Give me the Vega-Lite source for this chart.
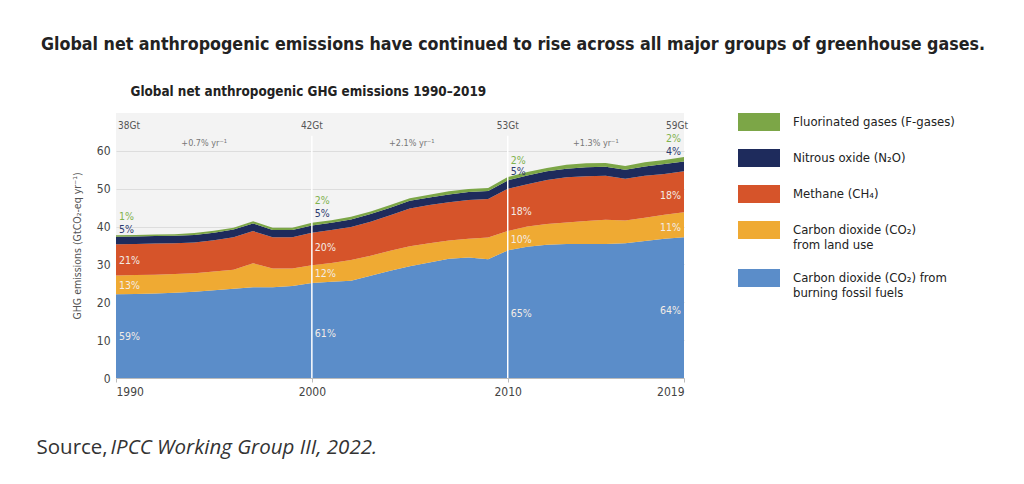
{
  "$schema": "https://vega.github.io/schema/vega-lite/v6.json",
  "autosize": {"type": "none"},
  "width": 568,
  "height": 265,
  "padding": {"left": 116, "top": 113, "right": 340, "bottom": 106},
  "background": "white",
  "title": {
    "text": "Global net anthropogenic emissions have continued to rise across all major groups of greenhouse gases.",
    "anchor": "middle",
    "frame": "group",
    "dx": 113,
    "offset": 30,
    "font": "DejaVu Sans Condensed",
    "fontSize": 17.7,
    "fontWeight": "bold",
    "color": "#222222"
  },
  "datasets": {
    "emissions": [
      {"year": 1990, "fossil": 22.1, "land": 5.0, "methane": 8.2, "n2o": 2.0, "fgas": 0.4},
      {"year": 1991, "fossil": 22.2, "land": 5.0, "methane": 8.2, "n2o": 2.0, "fgas": 0.4},
      {"year": 1992, "fossil": 22.3, "land": 5.0, "methane": 8.2, "n2o": 2.0, "fgas": 0.4},
      {"year": 1993, "fossil": 22.5, "land": 5.0, "methane": 8.1, "n2o": 2.0, "fgas": 0.4},
      {"year": 1994, "fossil": 22.8, "land": 4.9, "methane": 8.1, "n2o": 2.0, "fgas": 0.5},
      {"year": 1995, "fossil": 23.2, "land": 4.9, "methane": 8.3, "n2o": 2.0, "fgas": 0.5},
      {"year": 1996, "fossil": 23.6, "land": 5.0, "methane": 8.6, "n2o": 2.0, "fgas": 0.5},
      {"year": 1997, "fossil": 24.0, "land": 6.3, "methane": 8.5, "n2o": 2.0, "fgas": 0.6},
      {"year": 1998, "fossil": 24.0, "land": 4.9, "methane": 8.3, "n2o": 1.9, "fgas": 0.6},
      {"year": 1999, "fossil": 24.3, "land": 4.6, "methane": 8.3, "n2o": 1.9, "fgas": 0.6},
      {"year": 2000, "fossil": 25.1, "land": 4.7, "methane": 8.6, "n2o": 1.9, "fgas": 0.7},
      {"year": 2001, "fossil": 25.4, "land": 5.0, "methane": 8.7, "n2o": 1.9, "fgas": 0.7},
      {"year": 2002, "fossil": 25.7, "land": 5.5, "methane": 8.7, "n2o": 2.0, "fgas": 0.7},
      {"year": 2003, "fossil": 27.0, "land": 5.3, "methane": 9.0, "n2o": 2.0, "fgas": 0.7},
      {"year": 2004, "fossil": 28.3, "land": 5.3, "methane": 9.4, "n2o": 2.0, "fgas": 0.7},
      {"year": 2005, "fossil": 29.5, "land": 5.3, "methane": 10.0, "n2o": 2.0, "fgas": 0.7},
      {"year": 2006, "fossil": 30.5, "land": 5.1, "methane": 10.1, "n2o": 2.0, "fgas": 0.7},
      {"year": 2007, "fossil": 31.5, "land": 4.8, "methane": 10.1, "n2o": 2.1, "fgas": 0.8},
      {"year": 2008, "fossil": 31.8, "land": 5.0, "methane": 10.2, "n2o": 2.1, "fgas": 0.8},
      {"year": 2009, "fossil": 31.4, "land": 5.7, "methane": 10.2, "n2o": 2.1, "fgas": 0.8},
      {"year": 2010, "fossil": 33.7, "land": 5.1, "methane": 11.2, "n2o": 2.2, "fgas": 0.9},
      {"year": 2011, "fossil": 34.7, "land": 5.3, "methane": 11.2, "n2o": 2.3, "fgas": 0.9},
      {"year": 2012, "fossil": 35.2, "land": 5.5, "methane": 11.6, "n2o": 2.3, "fgas": 0.9},
      {"year": 2013, "fossil": 35.4, "land": 5.7, "methane": 11.9, "n2o": 2.3, "fgas": 1.0},
      {"year": 2014, "fossil": 35.4, "land": 6.1, "methane": 11.8, "n2o": 2.4, "fgas": 1.0},
      {"year": 2015, "fossil": 35.4, "land": 6.4, "methane": 11.6, "n2o": 2.4, "fgas": 1.0},
      {"year": 2016, "fossil": 35.6, "land": 6.0, "methane": 11.0, "n2o": 2.4, "fgas": 1.0},
      {"year": 2017, "fossil": 36.2, "land": 6.1, "methane": 11.1, "n2o": 2.5, "fgas": 1.1},
      {"year": 2018, "fossil": 36.8, "land": 6.3, "methane": 10.8, "n2o": 2.6, "fgas": 1.1},
      {"year": 2019, "fossil": 37.2, "land": 6.6, "methane": 10.8, "n2o": 2.6, "fgas": 1.2}
    ],
    "gases": [
      {"gas": "fossil", "rank": 1},
      {"gas": "land", "rank": 2},
      {"gas": "methane", "rank": 3},
      {"gas": "n2o", "rank": 4},
      {"gas": "fgas", "rank": 5}
    ],
    "dividers": [{"year": 2000}, {"year": 2010}],
    "pctLeft": [
      {"year": 1990, "v": 42.6, "label": "1%", "gas": "fgas"},
      {"year": 1990, "v": 39.1, "label": "5%", "gas": "n2o"},
      {"year": 1990, "v": 31.0, "label": "21%", "gas": "methane"},
      {"year": 1990, "v": 24.3, "label": "13%", "gas": "land"},
      {"year": 1990, "v": 10.7, "label": "59%", "gas": "fossil"},
      {"year": 2000, "v": 46.7, "label": "2%", "gas": "fgas"},
      {"year": 2000, "v": 43.3, "label": "5%", "gas": "n2o"},
      {"year": 2000, "v": 34.4, "label": "20%", "gas": "methane"},
      {"year": 2000, "v": 27.4, "label": "12%", "gas": "land"},
      {"year": 2000, "v": 11.6, "label": "61%", "gas": "fossil"},
      {"year": 2010, "v": 57.4, "label": "2%", "gas": "fgas"},
      {"year": 2010, "v": 54.3, "label": "5%", "gas": "n2o"},
      {"year": 2010, "v": 43.8, "label": "18%", "gas": "methane"},
      {"year": 2010, "v": 36.5, "label": "10%", "gas": "land"},
      {"year": 2010, "v": 17.0, "label": "65%", "gas": "fossil"}
    ],
    "pctRight": [
      {"year": 2019, "v": 63.1, "label": "2%", "gas": "fgas"},
      {"year": 2019, "v": 59.6, "label": "4%", "gas": "n2o"},
      {"year": 2019, "v": 48.2, "label": "18%", "gas": "methane"},
      {"year": 2019, "v": 39.7, "label": "11%", "gas": "land"},
      {"year": 2019, "v": 17.7, "label": "64%", "gas": "fossil"}
    ],
    "headCenter": [
      {"year": 2000, "v": 66.5, "label": "42Gt", "kind": "total"},
      {"year": 2010, "v": 66.5, "label": "53Gt", "kind": "total"},
      {"year": 1994.5, "v": 62.2, "label": "+0.7% yr⁻¹", "kind": "rate"},
      {"year": 2005.1, "v": 62.2, "label": "+2.1% yr⁻¹", "kind": "rate"},
      {"year": 2014.5, "v": 62.2, "label": "+1.3% yr⁻¹", "kind": "rate"}
    ],
    "headLeft": [{"year": 1990, "v": 66.5, "label": "38Gt"}],
    "headRight": [{"year": 2019, "v": 66.5, "label": "59Gt"}]
  },
  "resolve": {"axis": {"x": "independent", "y": "independent"}},
  "layer": [
    {
      "data": {"name": "emissions"},
      "transform": [
        {"fold": ["fossil", "land", "methane", "n2o", "fgas"], "as": ["gas", "value"]},
        {"lookup": "gas", "from": {"data": {"name": "gases"}, "key": "gas", "fields": ["rank"]}}
      ],
      "mark": {"type": "area", "interpolate": "linear", "opacity": 1},
      "encoding": {
        "x": {
          "field": "year", "type": "quantitative",
          "scale": {"domain": [1990, 2019], "nice": false, "zero": false},
          "axis": {
            "values": [1990, 2000, 2010, 2019], "format": "d", "labelFlush": true,
            "grid": false, "domainColor": "#bbbbbb", "tickColor": "#bbbbbb", "tickSize": 4,
            "labelFont": "DejaVu Sans Condensed", "labelFontSize": 12, "labelColor": "#444444", "labelPadding": 4,
            "title": "Source,", "titleFont": "Open Sans", "titleFontSize": 20.5, "titleFontWeight": "normal",
            "titleColor": "#333333", "titleX": -80, "titleY": 75, "titleAlign": "left", "titleBaseline": "alphabetic", "titleAnchor": "start"
          }
        },
        "y": {
          "field": "value", "type": "quantitative", "stack": "zero",
          "scale": {"domain": [0, 70], "nice": false},
          "axis": {
            "values": [0, 10, 20, 30, 40, 50, 60], "grid": true, "gridColor": "#dddddd", "ticks": false, "domain": false,
            "labelFont": "DejaVu Sans Condensed", "labelFontSize": 12, "labelColor": "#444444", "labelPadding": 6,
            "title": "GHG emissions (GtCO₂-eq yr⁻¹)", "titleFont": "DejaVu Sans Condensed", "titleFontSize": 10.5,
            "titleFontWeight": "normal", "titleColor": "#555555", "titlePadding": 14
          }
        },
        "color": {
          "field": "gas", "type": "nominal",
          "scale": {
            "domain": ["fgas", "n2o", "methane", "land", "fossil"],
            "range": ["#7ca647", "#1e2b5c", "#d6542a", "#efaa33", "#5b8dc9"]
          },
          "legend": {
            "orient": "none", "legendX": 622, "legendY": -12, "title": null,
            "symbolType": "M-1,-0.43H1V0.43H-1Z", "symbolSize": 1764, "symbolStrokeWidth": 0, "symbolOpacity": 1,
            "labelFont": "DejaVu Sans Condensed", "labelFontSize": 13, "labelColor": "#222222", "labelLimit": 300,
            "labelOffset": 13, "rowPadding": 5,
            "labelExpr": "datum.value == 'fgas' ? 'Fluorinated gases (F-gases)' : datum.value == 'n2o' ? 'Nitrous oxide (N₂O)' : datum.value == 'methane' ? 'Methane (CH₄)' : datum.value == 'land' ? ['Carbon dioxide (CO₂)', 'from land use'] : ['Carbon dioxide (CO₂) from', 'burning fossil fuels']"
          }
        },
        "order": {"field": "rank", "type": "quantitative"}
      }
    },
    {
      "data": {"name": "dividers"},
      "mark": {"type": "rule", "color": "#ffffff", "strokeWidth": 1.5},
      "encoding": {
        "x": {"field": "year", "type": "quantitative", "axis": null},
        "y": {"datum": 0, "type": "quantitative", "axis": null},
        "y2": {"datum": 64}
      }
    },
    {
      "data": {"name": "headCenter"},
      "mark": {"type": "text", "align": "center", "baseline": "middle", "font": "DejaVu Sans Condensed"},
      "encoding": {
        "x": {
          "field": "year", "type": "quantitative",
          "axis": {
            "orient": "top", "labels": false, "ticks": false, "domain": false, "grid": false,
            "title": "Global net anthropogenic GHG emissions 1990–2019", "titleFont": "DejaVu Sans Condensed",
            "titleFontSize": 13.4, "titleFontWeight": "bold", "titleColor": "#222222",
            "titleX": 14, "titleY": -18, "titleAlign": "left", "titleBaseline": "alphabetic", "titleAnchor": "start"
          }
        },
        "y": {"field": "v", "type": "quantitative", "axis": null},
        "text": {"field": "label"},
        "size": {"condition": {"test": "datum.kind == 'rate'", "value": 9}, "value": 10},
        "color": {"condition": {"test": "datum.kind == 'rate'", "value": "#777777"}, "value": "#555555"}
      }
    },
    {
      "data": {"name": "headLeft"},
      "mark": {"type": "text", "align": "left", "baseline": "middle", "font": "DejaVu Sans Condensed", "fontSize": 10, "color": "#555555", "dx": 2},
      "encoding": {
        "x": {"field": "year", "type": "quantitative", "axis": null},
        "y": {"field": "v", "type": "quantitative", "axis": null},
        "text": {"field": "label"}
      }
    },
    {
      "data": {"name": "headRight"},
      "mark": {"type": "text", "align": "right", "baseline": "middle", "font": "DejaVu Sans Condensed", "fontSize": 10, "color": "#555555", "dx": 4},
      "encoding": {
        "x": {"field": "year", "type": "quantitative", "axis": null},
        "y": {"field": "v", "type": "quantitative", "axis": null},
        "text": {"field": "label"}
      }
    },
    {
      "data": {"name": "pctLeft"},
      "mark": {"type": "text", "align": "left", "baseline": "middle", "font": "DejaVu Sans Condensed", "fontSize": 10.5, "dx": 3},
      "encoding": {
        "x": {
          "field": "year", "type": "quantitative",
          "axis": {
            "orient": "bottom", "labels": false, "ticks": false, "domain": false, "grid": false,
            "title": "IPCC Working Group III, 2022.", "titleFont": "Open Sans", "titleFontSize": 20.5,
            "titleFontWeight": "normal", "titleFontStyle": "italic", "titleColor": "#333333",
            "titleX": -6, "titleY": 75, "titleAlign": "left", "titleBaseline": "alphabetic", "titleAnchor": "start"
          }
        },
        "y": {"field": "v", "type": "quantitative", "axis": null},
        "text": {"field": "label"},
        "color": {
          "condition": [
            {"test": "datum.gas == 'fgas'", "value": "#7fb24e"},
            {"test": "datum.gas == 'n2o'", "value": "#2d3b70"}
          ],
          "value": "#f3ece6"
        }
      }
    },
    {
      "data": {"name": "pctRight"},
      "mark": {"type": "text", "align": "right", "baseline": "middle", "font": "DejaVu Sans Condensed", "fontSize": 10.5, "dx": -3},
      "encoding": {
        "x": {"field": "year", "type": "quantitative", "axis": null},
        "y": {"field": "v", "type": "quantitative", "axis": null},
        "text": {"field": "label"},
        "color": {
          "condition": [
            {"test": "datum.gas == 'fgas'", "value": "#7fb24e"},
            {"test": "datum.gas == 'n2o'", "value": "#2d3b70"}
          ],
          "value": "#f3ece6"
        }
      }
    }
  ],
  "config": {
    "view": {"stroke": null, "fill": "#f3f3f3"},
    "font": "DejaVu Sans Condensed"
  }
}
